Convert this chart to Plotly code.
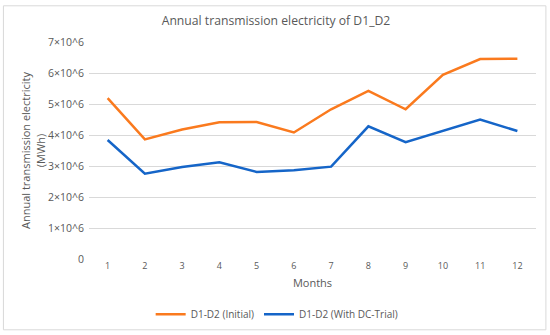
import plotly.graph_objects as go

months = ["1", "2", "3", "4", "5", "6", "7", "8", "9", "10", "11", "12"]
initial = [5.19e6, 3.86e6, 4.18e6, 4.41e6, 4.42e6, 4.08e6, 4.83e6, 5.42e6, 4.83e6, 5.94e6, 6.45e6, 6.46e6]
with_dc = [3.84e6, 2.75e6, 2.97e6, 3.12e6, 2.81e6, 2.86e6, 2.98e6, 4.28e6, 3.77e6, 4.14e6, 4.50e6, 4.13e6]
ytick_vals = [0, 1e6, 2e6, 3e6, 4e6, 5e6, 6e6, 7e6]
ytick_text = ["0", "1×10^6", "2×10^6", "3×10^6", "4×10^6", "5×10^6", "6×10^6", "7×10^6"]

FONT = "Open Sans"
GREY = "#595959"

fig = go.Figure()
fig.add_trace(go.Scatter(x=months, y=initial, mode="lines", name="D1-D2 (Initial)",
                         line=dict(color="#FA7A1E", width=2.5)))
fig.add_trace(go.Scatter(x=months, y=with_dc, mode="lines", name="D1-D2 (With DC-Trial)",
                         line=dict(color="#1565C8", width=2.5)))

L, R, T, B = 89, 14.4, 41.7, 76.3
W, H = 550, 335
pw = W - L - R
ph = H - T - B

def px_x(x):
    return (x - L) / pw

def px_y(y):
    return (H - B - y) / ph

fig.update_layout(
    width=W, height=H,
    margin=dict(l=L, r=R, t=T, b=B, autoexpand=False),
    paper_bgcolor="white", plot_bgcolor="white",
    font=dict(family=FONT, color=GREY, size=11),
    title=dict(text="Annual transmission electricity of D1_D2", xref="container", x=276 / W,
               xanchor="center", yref="container", y=1 - 21 / H, yanchor="middle",
               font=dict(size=12.2, color=GREY, family=FONT)),
    xaxis=dict(type="category", range=[-0.5, 11.5], showgrid=False, zeroline=False, showline=False,
               ticks="", tickfont=dict(size=9, color=GREY), automargin=False,
               title=dict(text="Months", font=dict(size=11, color=GREY), standoff=8)),
    yaxis=dict(range=[0, 7e6], tickvals=ytick_vals, ticktext=ytick_text, automargin=False,
               showgrid=True, gridcolor="#D9D9D9", gridwidth=1, zeroline=False,
               tickfont=dict(size=10.5, color=GREY), ticks="", ticklabelstandoff=4,
               title=dict(text="Annual transmission electricity<br>(MWh)",
                          font=dict(size=11, color=GREY), standoff=0)),
    legend=dict(orientation="h", x=px_x(277), xanchor="center", y=px_y(314), yanchor="middle",
                font=dict(size=10, color=GREY), itemwidth=30),
    shapes=[dict(type="rect", xref="paper", yref="paper",
                 x0=px_x(3.5), x1=px_x(545.5), y0=px_y(329.5), y1=px_y(5.5),
                 line=dict(color="#D9D9D9", width=1), layer="below")],
)

fig.write_html("out.html", config={"displayModeBar": False},
               post_script="document.body.style.margin='0';document.body.style.overflow='hidden';")
